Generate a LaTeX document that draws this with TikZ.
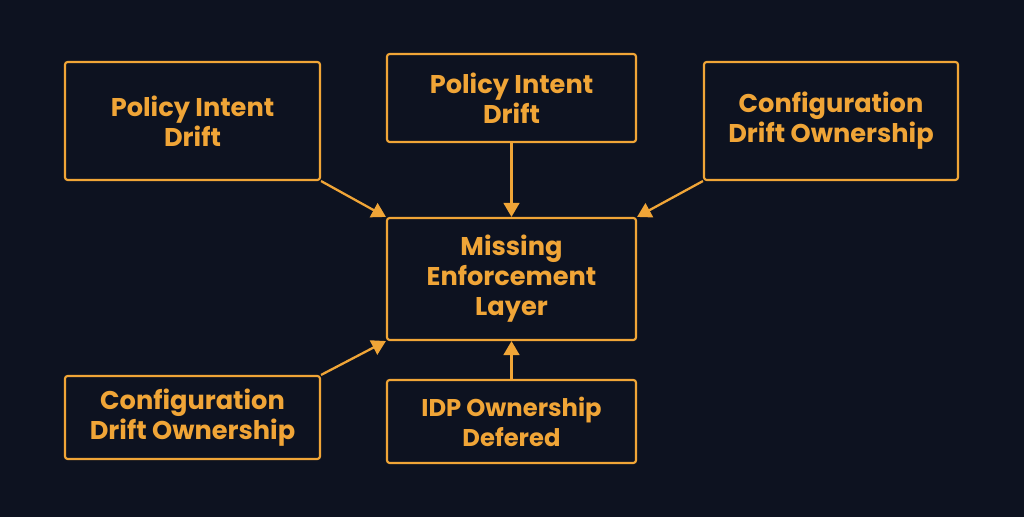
\documentclass[tikz,border=0pt]{standalone}
\usepackage{fontspec}
\setmainfont{Poppins}
\usepackage{tikz}
\usetikzlibrary{calc,arrows.meta,positioning}
\definecolor{bgnavy}{RGB}{13,18,32}
\definecolor{amber}{RGB}{240,165,55}
\tikzset{cause/.style={draw=amber,line width=1.2pt,rounded corners=1.5pt,fill=bgnavy,text=amber,align=center,font=\fontsize{14.6}{17}\selectfont\bfseries,inner sep=0pt},
  feed/.style={draw=amber,line width=1.3pt,-{Triangle[width=9pt,length=8pt]}}}

\begin{document}
\begin{tikzpicture}

% Background
\fill[bgnavy] (0,0) rectangle (20.48,10.34);
\useasboundingbox (0,0) rectangle (20.48,10.34);

% Nodes
\node[cause,minimum width=5.1cm,minimum height=2.36cm]  (intentL) at (3.85,7.92)  {Policy Intent\\Drift};
\node[cause,minimum width=4.98cm,minimum height=1.76cm] (intentT) at (10.23,8.38) {Policy Intent\\Drift};
\node[cause,minimum width=5.08cm,minimum height=2.36cm] (configR) at (16.62,7.92) {Configuration\\Drift Ownership};
\node[cause,minimum width=4.98cm,minimum height=2.44cm] (missing) at (10.23,4.76) {Missing\\Enforcement\\Layer};
\node[cause,minimum width=5.1cm,minimum height=1.66cm]  (configL) at (3.85,1.99)  {Configuration\\Drift Ownership};
\node[cause,minimum width=4.98cm,minimum height=1.66cm,font=\fontsize{13.8}{17}\selectfont\bfseries] (idp) at (10.23,1.91) {IDP Ownership\\Defered};

% Arrows
\draw[feed] (intentL.south east) -- (missing.north west);
\draw[feed] (intentT.south) -- (missing.north);
\draw[feed] (configR.south west) -- (missing.north east);
\draw[feed] (configL.north east) -- (missing.south west);
\draw[feed] (idp.north) -- (missing.south);

\end{tikzpicture}
\end{document}
